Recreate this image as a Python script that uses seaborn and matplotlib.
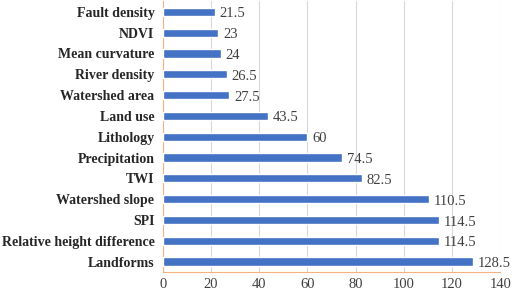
import matplotlib
matplotlib.use('Agg')
import matplotlib.pyplot as plt
import seaborn as sns
import pandas as pd

factors = ['Fault density', 'NDVI', 'Mean curvature', 'River density', 'Watershed area',
           'Land use', 'Lithology', 'Precipitation', 'TWI', 'Watershed slope', 'SPI',
           'Relative height difference', 'Landforms']
scores = [21.5, 23, 24, 26.5, 27.5, 43.5, 60, 74.5, 82.5, 110.5, 114.5, 114.5, 128.5]
labels = ['21.5', '23', '24', '26.5', '27.5', '43.5', '60', '74.5', '82.5', '110.5',
          '114.5', '114.5', '128.5']

sns.set_theme(style="white")
plt.rcParams['font.family'] = ['Liberation Serif', 'DejaVu Serif']

df = pd.DataFrame({'factor': factors, 'score': scores})

fig = plt.figure(figsize=(5.12, 2.94), dpi=100)
ax = fig.add_axes([0.318, 0.075, 0.659, 0.92])
sns.barplot(data=df, x='score', y='factor', color='#4472C4', width=0.4,
            saturation=1, ax=ax, zorder=3)
ax.set_xlim(0, 140)
ax.set_xticks(range(0, 141, 20))
ax.set_ylim(len(factors) - 0.5, -0.5)
ax.grid(axis='x', color='#d9d9d9', linewidth=0.8, zorder=0)
ax.set_xlabel('')
ax.set_ylabel('')
for s in ['top', 'right']:
    ax.spines[s].set_visible(False)
for s in ['left', 'bottom']:
    ax.spines[s].set_color('#f4b183')
    ax.spines[s].set_linewidth(0.8)
ax.tick_params(axis='x', labelsize=10.5, colors='#404040', length=0, pad=4)
ax.tick_params(axis='y', labelsize=10, length=0, pad=6)
for t in ax.get_yticklabels():
    t.set_fontweight('bold')
    t.set_color('#262626')
for i, (v, lab) in enumerate(zip(scores, labels)):
    ax.text(v + 2, i + 0.1, lab, va='center', ha='left', fontsize=10.5, color='#404040')

fig.savefig('out.png', dpi=100)
